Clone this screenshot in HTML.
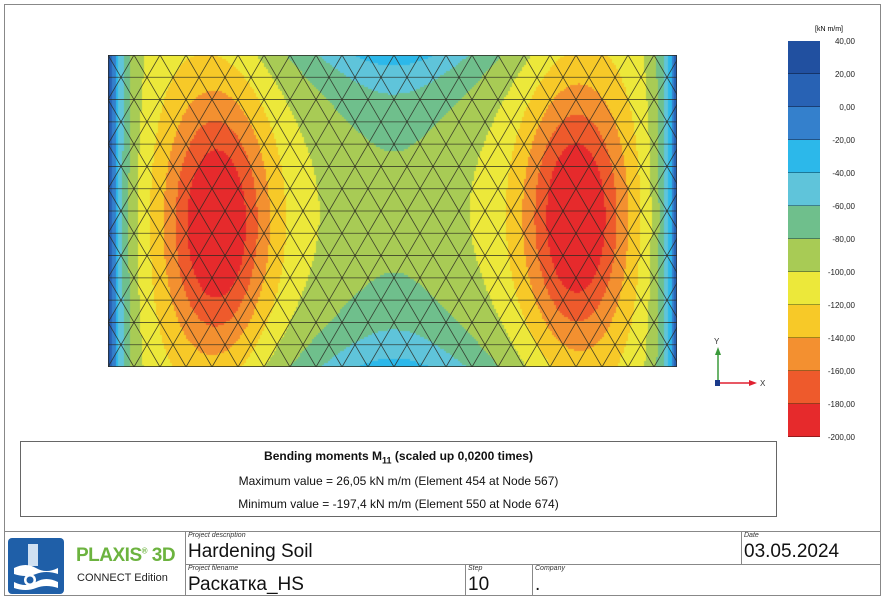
<!DOCTYPE html>
<html><head><meta charset="utf-8"><style>
body{margin:0;width:886px;height:602px;background:#fff;position:relative;overflow:hidden;font-family:"Liberation Sans",sans-serif}
.a{position:absolute}
.frame{left:4px;top:4px;width:877px;height:592px;border:1px solid #888;box-sizing:border-box}
.lbl{font-size:7px;font-style:italic;color:#333}
.big{font-size:19px;color:#111}
.leg{font-size:8px;color:#222;text-align:right;width:50px}
</style></head><body>
<div class="a frame"></div>
<canvas id="c" class="a" style="left:108px;top:55px" width="569" height="312"></canvas>
<svg id="m" class="a" style="left:108px;top:55px" width="569" height="312"></svg>
<div id="lg"></div>
<div class="a" style="left:815px;top:26px;font-size:7px">[kN m/m]</div>
<svg class="a" style="left:705px;top:335px" width="70" height="60">
<text x="9" y="9" font-size="8" fill="#333" font-family="Liberation Sans">Y</text>
<line x1="13" y1="48" x2="13" y2="16" stroke="#3a9a3a" stroke-width="1.5"/><polygon points="13,12 10,20 16,20" fill="#3a9a3a"/>
<line x1="13" y1="48" x2="46" y2="48" stroke="#e02030" stroke-width="1.5"/><polygon points="52,48 44,45 44,51" fill="#e02030"/>
<rect x="10" y="45" width="5" height="6" fill="#1a3a8a"/>
<text x="55" y="51" font-size="8" fill="#333" font-family="Liberation Sans">X</text>
</svg>
<div class="a" style="left:20px;top:441px;width:757px;height:76px;border:1px solid #666;box-sizing:border-box;text-align:center;font-size:12px;color:#111">
<div style="margin-top:7px;font-weight:bold">Bending moments M<sub style="font-size:9px">11</sub> (scaled up 0,0200 times)</div>
<div style="margin-top:9px">Maximum value = 26,05 kN m/m (Element 454 at Node 567)</div>
<div style="margin-top:9px">Minimum value = -197,4 kN m/m (Element 550 at Node 674)</div>
</div>
<div class="a" style="left:4px;top:531px;width:877px;height:1px;background:#888"></div>
<div class="a" style="left:185px;top:531px;width:1px;height:65px;background:#888"></div>
<div class="a" style="left:185px;top:564px;width:696px;height:1px;background:#888"></div>
<div class="a" style="left:741px;top:531px;width:1px;height:33px;background:#888"></div>
<div class="a" style="left:465px;top:564px;width:1px;height:32px;background:#888"></div>
<div class="a" style="left:532px;top:564px;width:1px;height:32px;background:#888"></div>
<div class="a lbl" style="left:188px;top:532px">Project description</div>
<div class="a big" style="left:188px;top:541px">Hardening Soil</div>
<div class="a lbl" style="left:744px;top:532px">Date</div>
<div class="a big" style="left:744px;top:541px">03.05.2024</div>
<div class="a lbl" style="left:188px;top:565px">Project filename</div>
<div class="a big" style="left:188px;top:574px">Раскатка_HS</div>
<div class="a lbl" style="left:468px;top:565px">Step</div>
<div class="a big" style="left:468px;top:574px">10</div>
<div class="a lbl" style="left:535px;top:565px">Company</div>
<div class="a big" style="left:535px;top:574px">.</div>
<svg class="a" style="left:8px;top:538px" width="56" height="56">
<rect x="0" y="0" width="56" height="56" rx="4" fill="#1f5fa8"/>
<rect x="20" y="6" width="10" height="22" fill="#cfe0f2"/>
<path d="M6 30 Q18 24 28 30 T50 30 L50 36 Q38 32 28 36 T6 36Z" fill="#fff"/>
<circle cx="22" cy="42" r="6" fill="#fff"/><circle cx="22" cy="42" r="3.5" fill="#1f5fa8"/>
<path d="M6 44 Q18 50 28 44 T50 44 L50 50 Q38 46 28 50 T6 50Z" fill="#fff"/>
</svg>
<div class="a" style="left:76px;top:545px;font-size:19px;font-weight:bold;color:#6cb33f;letter-spacing:-0.5px">PLAXIS<sup style="font-size:8px">®</sup> 3D</div>
<div class="a" style="left:77px;top:572px;font-size:11px;color:#222">CONNECT Edition</div>
<script>
var cols=["#2150a0","#2862b4","#3480cc","#2cb8ea","#5fc4da","#6fbf8c","#a8cb55","#ece83a","#f7c928","#f39030","#ee5a2c","#e62a2c"];
var lg=document.getElementById('lg'),h='';
for(var i=0;i<12;i++){h+='<div class="a" style="left:788px;top:'+(41+i*33)+'px;width:32px;height:33px;background:'+cols[i]+';box-shadow:inset 0 -1px 0 rgba(0,0,0,.35)"></div>';}
for(var i=0;i<=12;i++){var v=40-20*i;h+='<div class="a leg" style="left:805px;top:'+(37+i*33)+'px">'+v+',00</div>';}
lg.innerHTML=h;
function f(u,w){
 var pl=Math.exp(-Math.pow((u-0.19)/0.09,2)-Math.pow((w-0.54)/0.42,2));
 var pr=Math.exp(-Math.pow((u-0.82)/0.09,2)-Math.pow((w-0.52)/0.42,2));
 var e=140*(Math.exp(-u/0.025)+Math.exp(-(1-u)/0.025));
 var tb=65*(Math.exp(-w/0.2)+Math.exp(-(1-w)/0.2))*Math.exp(-Math.pow((u-0.5)/0.22,2));
 var cm=14*Math.exp(-Math.pow((u-0.5)/0.12,2));
 return -110-100*(pl+pr)+e+tb+cm;
}
var c=document.getElementById('c').getContext('2d');
for(var y=0;y<312;y+=2)for(var x=0;x<569;x+=2){
 var v=f(x/569,y/312);var k=Math.floor((40-v)/20);if(k<0)k=0;if(k>11)k=11;
 c.fillStyle=cols[k];c.fillRect(x,y,2,2);}
var s='',R=14,dy=312/R,dx=26,nc=Math.ceil(569/dx)+1;
for(var r=0;r<=R;r++){s+='<line x1="0" y1="'+(r*dy)+'" x2="569" y2="'+(r*dy)+'"/>';}
for(var r=0;r<R;r++){var o=(r%2)?dx/2:0,y0=r*dy,y1=(r+1)*dy;
 for(var j=-1;j<=nc;j++){var x=j*dx+o;
  s+='<line x1="'+x+'" y1="'+y0+'" x2="'+(x+dx/2)+'" y2="'+y1+'"/>';
  s+='<line x1="'+x+'" y1="'+y0+'" x2="'+(x-dx/2)+'" y2="'+y1+'"/>';}}
s+='<rect x="0.5" y="0.5" width="568" height="311" fill="none"/>';
document.getElementById('m').innerHTML='<g stroke="#2a2a22" stroke-width="0.8" stroke-opacity="0.85">'+s+'</g>';
</script>
</body></html>
